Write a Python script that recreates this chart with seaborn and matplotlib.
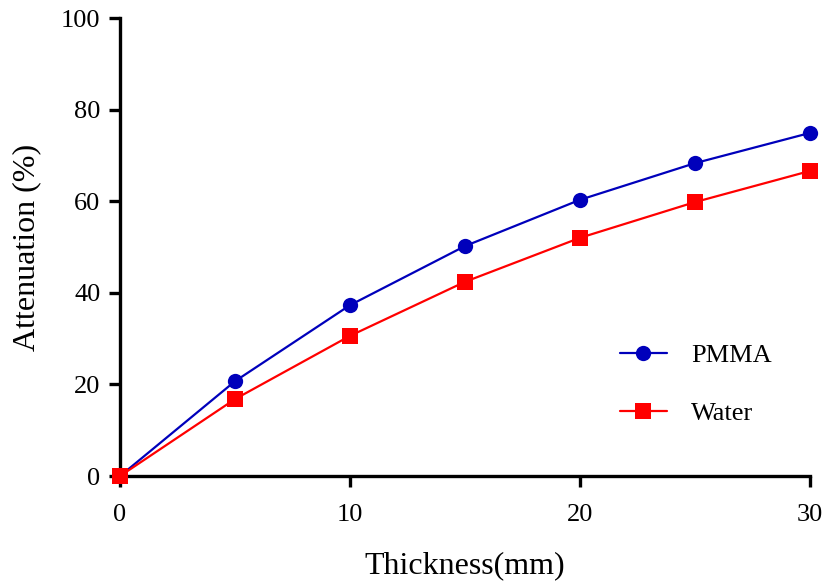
import numpy as np
import pandas as pd
import matplotlib
matplotlib.use("Agg")
import matplotlib.pyplot as plt
import seaborn as sns

# Data
thickness = [0, 5, 10, 15, 20, 25, 30]
pmma = [0, 20.7, 37.3, 50.2, 60.3, 68.3, 74.9]
water = [0, 16.8, 30.6, 42.4, 52.0, 59.8, 66.6]
series_names = ["PMMA", "Water"]
x_ticks = [0, 10, 20, 30]
y_ticks = [0, 20, 40, 60, 80, 100]


def make_plot():
    sns.set_theme(style="ticks")
    plt.rcParams["font.family"] = ["Liberation Serif", "DejaVu Serif"]
    plt.rcParams["text.color"] = "black"
    plt.rcParams["axes.labelcolor"] = "black"

    df = pd.DataFrame({
        "Thickness": thickness * 2,
        "Attenuation": pmma + water,
        "Material": [series_names[0]] * len(thickness) + [series_names[1]] * len(thickness),
    })

    fig = plt.figure(figsize=(8.22, 5.82), dpi=100)
    ax = fig.add_axes([0.146, 0.182, 0.839, 0.787])

    palette = {"PMMA": "#0000BB", "Water": "#FF0000"}
    markers = {"PMMA": "o", "Water": "s"}
    sns.lineplot(data=df, x="Thickness", y="Attenuation", hue="Material",
                 style="Material", markers=markers, dashes=False,
                 palette=palette, linewidth=1.6, markersize=11,
                 markeredgewidth=0, ax=ax, clip_on=False, zorder=5)

    ax.set_xlim(0, 30)
    ax.set_ylim(0, 100)
    ax.set_xticks(x_ticks)
    ax.set_yticks(y_ticks)
    ax.tick_params(axis="both", direction="out", length=8, width=2.4,
                   labelsize=19, pad=6, color="black", labelcolor="black")
    ax.tick_params(axis="x", pad=12)
    for side in ["left", "bottom"]:
        ax.spines[side].set_linewidth(2.4)
        ax.spines[side].set_color("black")
    sns.despine(ax=ax)

    ax.set_xlabel("Thickness(mm)", fontsize=23, labelpad=18, color="black")
    ax.set_ylabel("Attenuation (%)", fontsize=23, labelpad=14, color="black")

    handles, labels = ax.get_legend_handles_labels()
    leg = ax.legend(handles, labels, frameon=False, fontsize=19, handlelength=1.8,
                    labelspacing=1.3, handletextpad=0.9,
                    loc="center left", bbox_to_anchor=(0.69, 0.20))
    for t in leg.get_texts():
        t.set_color("black")

    fig.savefig("out.png", dpi=100)


if __name__ == "__main__":
    make_plot()
